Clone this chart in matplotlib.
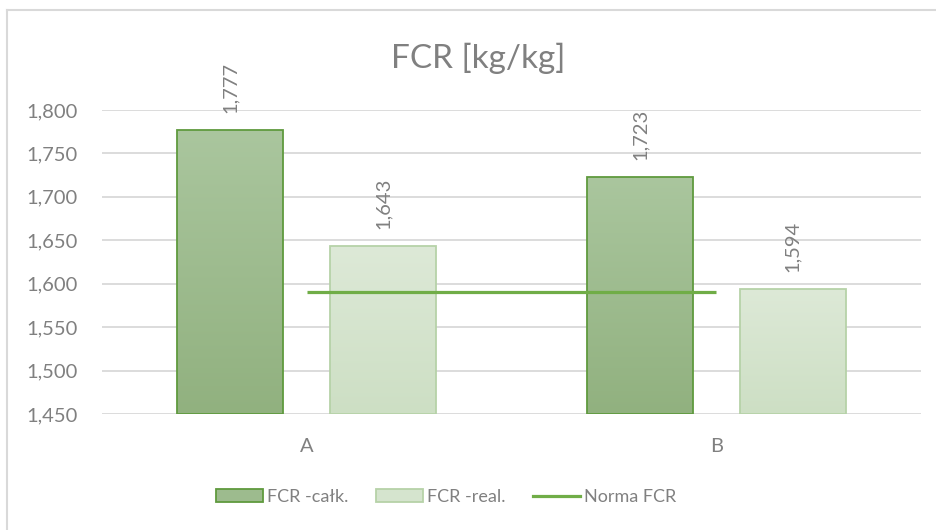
import numpy as np
import matplotlib.pyplot as plt
from matplotlib.patches import Rectangle
from matplotlib.lines import Line2D
from matplotlib.colors import LinearSegmentedColormap

categories = ['A', 'B']
fcr_total = [1.777, 1.723]
fcr_real = [1.643, 1.594]
fcr_norm = [1.590, 1.590]
labels_total = ['1,777', '1,723']
labels_real = ['1,643', '1,594']
yticks = [1.45, 1.50, 1.55, 1.60, 1.65, 1.70, 1.75, 1.80]
ytick_labels = ['1,450', '1,500', '1,550', '1,600', '1,650', '1,700', '1,750', '1,800']

plt.rcParams['font.family'] = ['Lato', 'DejaVu Sans']
gray = '#808080'

fig = plt.figure(figsize=(9.37, 5.30), dpi=100)
ax = fig.add_axes([102 / 937, 116 / 530, 819 / 937, 304 / 530])

x = np.arange(len(categories))
w = 0.2585
off = 0.1866

dark_cmap = LinearSegmentedColormap.from_list('dark', ['#91b17f', '#aac69e'])
light_cmap = LinearSegmentedColormap.from_list('light', ['#cddfc4', '#dde9d7'])


def gradient_bar(xc, val, cmap, edge):
    grad = np.linspace(0, 1, 256).reshape(-1, 1)
    im = ax.imshow(grad, cmap=cmap, origin='lower', aspect='auto',
                   extent=[xc - w / 2, xc + w / 2, 1.45, val], zorder=2)
    r = Rectangle((xc - w / 2, 1.45), w, val - 1.45, facecolor='none',
                  edgecolor=edge, linewidth=1.3, zorder=3)
    ax.add_patch(r)
    im.set_clip_path(r)


for i in range(len(categories)):
    gradient_bar(x[i] - off, fcr_total[i], dark_cmap, '#5f9a3e')
    gradient_bar(x[i] + off, fcr_real[i], light_cmap, '#b6d2a8')
    ax.text(x[i] - off, fcr_total[i] + 0.02, labels_total[i], rotation=90,
            ha='center', va='bottom', color=gray, fontsize=14.5, clip_on=False)
    ax.text(x[i] + off, fcr_real[i] + 0.02, labels_real[i], rotation=90,
            ha='center', va='bottom', color=gray, fontsize=14.5, clip_on=False)

ax.plot(x, fcr_norm, color='#70ad47', linewidth=2.3, zorder=4,
        solid_capstyle='butt')

ax.set_xlim(-0.5, 1.5)
ax.set_ylim(1.45, 1.80)
ax.set_yticks(yticks)
ax.set_yticklabels(ytick_labels)
ax.set_xticks(x)
ax.set_xticklabels(categories)
ax.tick_params(axis='both', length=0, colors=gray, labelsize=14.5)
ax.tick_params(axis='y', pad=17.5)
ax.tick_params(axis='x', pad=17)
ax.grid(axis='y', color='#d9d9d9', linewidth=1.3, zorder=0)
ax.set_axisbelow(True)
for s in ax.spines.values():
    s.set_visible(False)

fig.text(478 / 937, 1 - 58 / 530, 'FCR [kg/kg]', ha='center', va='center',
         fontsize=24, color=gray)

# chart area border (left and top visible)
fig.add_artist(Line2D([7 / 937, 7 / 937], [0, 1 - 10 / 530],
                      transform=fig.transFigure, color='#d9d9d9', linewidth=1.5))
fig.add_artist(Line2D([7 / 937, 1], [1 - 10 / 530, 1 - 10 / 530],
                      transform=fig.transFigure, color='#d9d9d9', linewidth=1.5))

handles = [
    Rectangle((0, 0), 1, 1, facecolor='#9dbb8e', edgecolor='#5f9a3e', linewidth=1.3),
    Rectangle((0, 0), 1, 1, facecolor='#d5e4ce', edgecolor='#b6d2a8', linewidth=1.3),
    Line2D([0], [0], color='#70ad47', linewidth=2.3),
]
leg = fig.legend(handles, ['FCR -całk.', 'FCR -real.', 'Norma FCR'],
                 loc='center', bbox_to_anchor=(446 / 937, 1 - 497 / 530),
                 ncol=3, frameon=False, fontsize=13, handlelength=2.6,
                 handleheight=0.72, handletextpad=0.25, columnspacing=1.5)
for t in leg.get_texts():
    t.set_color(gray)

fig.savefig('out.png', dpi=100)
